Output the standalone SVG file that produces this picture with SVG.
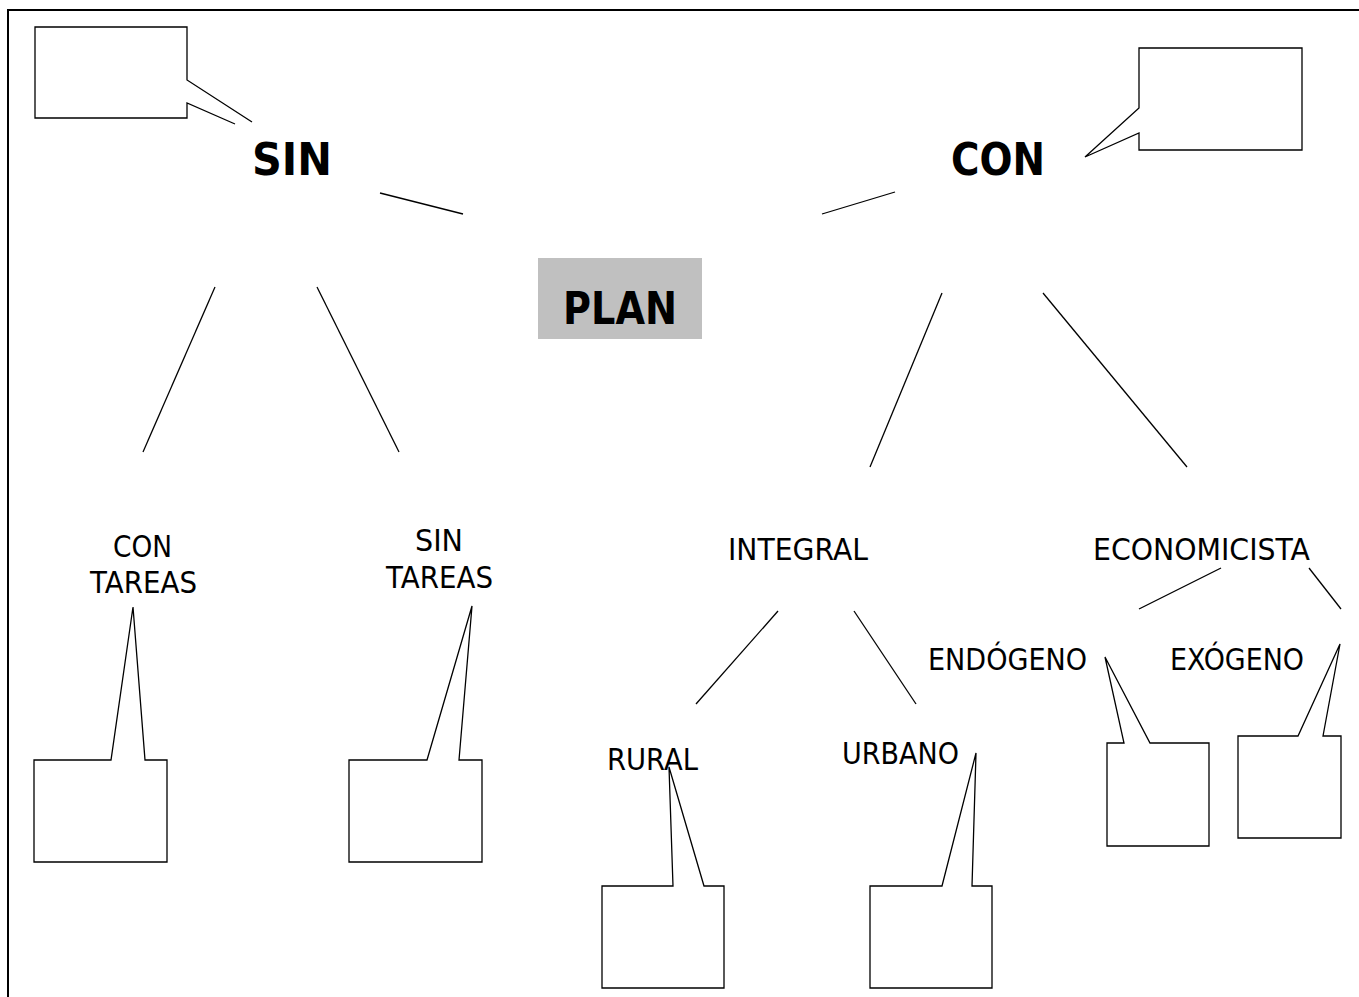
<svg xmlns="http://www.w3.org/2000/svg" width="1359" height="997" viewBox="0 0 1359 997">
<style>
.ln{stroke:#000;stroke-width:1.3;fill:none}
.co{stroke:#000;stroke-width:1.3;fill:#fff;stroke-linejoin:miter}
.b{font-family:"DejaVu Sans","Liberation Sans",sans-serif;font-weight:bold;font-size:44px;fill:#000}
.t{font-family:"DejaVu Sans","Liberation Sans",sans-serif;font-size:29.5px;fill:#000}
</style>
<rect width="1359" height="997" fill="#fff"/>
<path d="M8,997 V10 H1359" stroke="#000" stroke-width="2" fill="none"/>
<g id="connectors">
<line class="ln" x1="380" y1="193" x2="463" y2="214"/>
<line class="ln" x1="822" y1="214" x2="895" y2="192"/>
<line class="ln" x1="215" y1="287" x2="143" y2="452"/>
<line class="ln" x1="317" y1="287" x2="399" y2="452"/>
<line class="ln" x1="942" y1="293" x2="870" y2="467"/>
<line class="ln" x1="1043" y1="293" x2="1187" y2="467"/>
<line class="ln" x1="778" y1="611" x2="696" y2="704"/>
<line class="ln" x1="854" y1="611" x2="916" y2="704"/>
<line class="ln" x1="1221" y1="568" x2="1139" y2="609"/>
<line class="ln" x1="1309" y1="568" x2="1341" y2="609"/>
</g>
<g id="plan">
<rect x="538" y="258" width="164" height="81" fill="#c0c0c0"/>
<text class="b" x="563" y="324" textLength="114" lengthAdjust="spacingAndGlyphs">PLAN</text>
</g>
<g id="sin">
<text class="b" x="252" y="175" textLength="80" lengthAdjust="spacingAndGlyphs">SIN</text>
<path class="co" d="M252,122 L187,80 V27 H35 V118 H187 V103 L235,124"/>
</g>
<g id="con">
<text class="b" x="951" y="175" textLength="94" lengthAdjust="spacingAndGlyphs">CON</text>
<path class="co" d="M1085,157 L1139,108 V48 H1302 V150 H1139 V133 Z"/>
</g>
<g id="con-tareas">
<text class="t" x="113" y="557" textLength="59" lengthAdjust="spacingAndGlyphs">CON</text>
<text class="t" x="90" y="593" textLength="107" lengthAdjust="spacingAndGlyphs">TAREAS</text>
<path class="co" d="M133,607 L111,760 H34 V862 H167 V760 H145 Z"/>
</g>
<g id="sin-tareas">
<text class="t" x="415" y="551" textLength="48" lengthAdjust="spacingAndGlyphs">SIN</text>
<text class="t" x="386" y="588" textLength="107" lengthAdjust="spacingAndGlyphs">TAREAS</text>
<path class="co" d="M472,606 L427,760 H349 V862 H482 V760 H459 Z"/>
</g>
<g id="integral">
<text class="t" x="728" y="560" textLength="140" lengthAdjust="spacingAndGlyphs">INTEGRAL</text>
</g>
<g id="economicista">
<text class="t" x="1093" y="560" textLength="217" lengthAdjust="spacingAndGlyphs">ECONOMICISTA</text>
</g>
<g id="rural">
<text class="t" x="607" y="770" textLength="91" lengthAdjust="spacingAndGlyphs">RURAL</text>
<path class="co" d="M669,767 L673,886 H602 V988 H724 V886 H704 Z"/>
</g>
<g id="urbano">
<text class="t" x="842" y="764" textLength="117" lengthAdjust="spacingAndGlyphs">URBANO</text>
<path class="co" d="M976,753 L942,886 H870 V988 H992 V886 H972 Z"/>
</g>
<g id="endogeno">
<text class="t" x="928" y="670" textLength="159" lengthAdjust="spacingAndGlyphs">ENDÓGENO</text>
<path class="co" d="M1105,657 L1124,743 H1107 V846 H1209 V743 H1150 Z"/>
</g>
<g id="exogeno">
<text class="t" x="1170" y="670" textLength="134" lengthAdjust="spacingAndGlyphs">EXÓGENO</text>
<path class="co" d="M1340,644 L1298,736 H1238 V838 H1341 V736 H1323 Z"/>
</g>
</svg>
